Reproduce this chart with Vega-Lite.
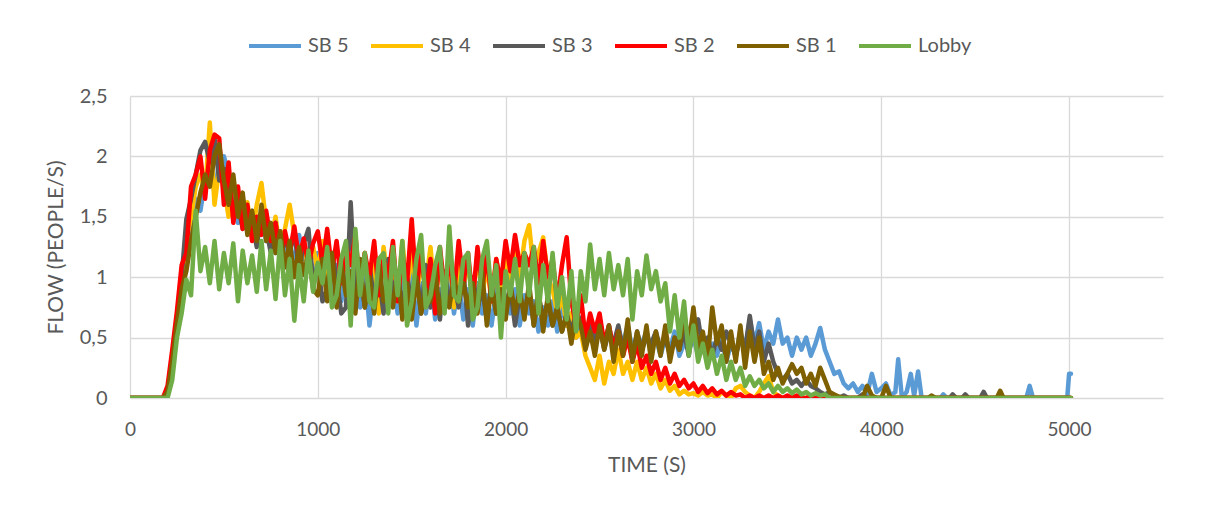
{
"$schema": "https://vega.github.io/schema/vega-lite/v6.json",
"width": 1033,
"height": 302,
"autosize": {"type": "none"},
"padding": {"left": 130, "top": 96, "right": 50, "bottom": 112},
"background": "white",
"config": {"view": {"stroke": null}, "font": "Lato"},
"data": {"values": [
{"t":0,"SB 5":0,"SB 4":0,"SB 3":0,"SB 2":0,"SB 1":0,"Lobby":0},
{"t":100,"SB 5":0,"SB 4":0,"SB 3":0,"SB 2":0,"SB 1":0,"Lobby":0},
{"t":175,"SB 5":0,"SB 4":0,"SB 3":0,"SB 2":0,"SB 1":0,"Lobby":0},
{"t":200,"SB 5":0.05,"SB 4":0.04,"SB 3":0.06,"SB 2":0.1,"SB 1":0.05,"Lobby":0},
{"t":225,"SB 5":0.3,"SB 4":0.28,"SB 3":0.32,"SB 2":0.4,"SB 1":0.3,"Lobby":0.15},
{"t":250,"SB 5":0.65,"SB 4":0.6,"SB 3":0.58,"SB 2":0.72,"SB 1":0.62,"Lobby":0.5},
{"t":275,"SB 5":1.05,"SB 4":0.95,"SB 3":1.0,"SB 2":1.1,"SB 1":0.9,"Lobby":0.7},
{"t":300,"SB 5":1.25,"SB 4":1.3,"SB 3":1.48,"SB 2":1.2,"SB 1":1.05,"Lobby":0.98},
{"t":325,"SB 5":1.45,"SB 4":1.5,"SB 3":1.65,"SB 2":1.75,"SB 1":1.3,"Lobby":0.85},
{"t":350,"SB 5":1.65,"SB 4":1.75,"SB 3":1.85,"SB 2":1.85,"SB 1":1.5,"Lobby":1.55},
{"t":375,"SB 5":1.55,"SB 4":1.85,"SB 3":2.05,"SB 2":2.0,"SB 1":1.7,"Lobby":1.05},
{"t":400,"SB 5":1.8,"SB 4":1.7,"SB 3":2.12,"SB 2":1.65,"SB 1":1.85,"Lobby":1.25},
{"t":425,"SB 5":1.9,"SB 4":2.28,"SB 3":1.95,"SB 2":2.05,"SB 1":1.75,"Lobby":0.95},
{"t":450,"SB 5":1.7,"SB 4":1.6,"SB 3":2.15,"SB 2":2.18,"SB 1":2.0,"Lobby":1.3},
{"t":475,"SB 5":1.95,"SB 4":1.9,"SB 3":1.8,"SB 2":2.15,"SB 1":2.1,"Lobby":0.9},
{"t":500,"SB 5":2.0,"SB 4":1.75,"SB 3":1.9,"SB 2":1.6,"SB 1":1.8,"Lobby":1.2},
{"t":525,"SB 5":1.85,"SB 4":1.5,"SB 3":1.75,"SB 2":1.95,"SB 1":1.6,"Lobby":0.95},
{"t":550,"SB 5":1.6,"SB 4":1.8,"SB 3":1.55,"SB 2":1.45,"SB 1":1.85,"Lobby":1.28},
{"t":575,"SB 5":1.45,"SB 4":1.6,"SB 3":1.6,"SB 2":1.75,"SB 1":1.5,"Lobby":0.8},
{"t":600,"SB 5":1.65,"SB 4":1.45,"SB 3":1.4,"SB 2":1.4,"SB 1":1.7,"Lobby":1.22},
{"t":625,"SB 5":1.45,"SB 4":1.62,"SB 3":1.55,"SB 2":1.6,"SB 1":1.35,"Lobby":0.95},
{"t":650,"SB 5":1.55,"SB 4":1.35,"SB 3":1.45,"SB 2":1.3,"SB 1":1.55,"Lobby":1.18},
{"t":675,"SB 5":1.35,"SB 4":1.6,"SB 3":1.25,"SB 2":1.5,"SB 1":1.3,"Lobby":0.88},
{"t":700,"SB 5":1.5,"SB 4":1.78,"SB 3":1.55,"SB 2":1.35,"SB 1":1.6,"Lobby":1.3},
{"t":725,"SB 5":1.3,"SB 4":1.45,"SB 3":1.4,"SB 2":1.55,"SB 1":1.3,"Lobby":0.9},
{"t":750,"SB 5":1.42,"SB 4":1.3,"SB 3":1.2,"SB 2":1.3,"SB 1":1.45,"Lobby":1.22},
{"t":775,"SB 5":1.2,"SB 4":1.5,"SB 3":1.45,"SB 2":1.45,"SB 1":1.2,"Lobby":0.82},
{"t":800,"SB 5":1.38,"SB 4":1.2,"SB 3":1.15,"SB 2":1.15,"SB 1":1.38,"Lobby":1.3},
{"t":825,"SB 5":1.15,"SB 4":1.4,"SB 3":1.32,"SB 2":1.38,"SB 1":1.08,"Lobby":0.85},
{"t":850,"SB 5":1.3,"SB 4":1.6,"SB 3":1.2,"SB 2":1.2,"SB 1":1.3,"Lobby":1.15},
{"t":875,"SB 5":1.1,"SB 4":1.35,"SB 3":1.38,"SB 2":1.42,"SB 1":1.0,"Lobby":0.64},
{"t":900,"SB 5":1.35,"SB 4":1.18,"SB 3":1.05,"SB 2":1.15,"SB 1":1.25,"Lobby":1.1},
{"t":925,"SB 5":1.15,"SB 4":1.3,"SB 3":1.28,"SB 2":1.32,"SB 1":1.02,"Lobby":0.8},
{"t":950,"SB 5":1.22,"SB 4":1.05,"SB 3":1.4,"SB 2":1.1,"SB 1":1.2,"Lobby":1.22},
{"t":975,"SB 5":1.0,"SB 4":1.25,"SB 3":0.95,"SB 2":1.28,"SB 1":0.9,"Lobby":0.88},
{"t":1000,"SB 5":1.2,"SB 4":1.05,"SB 3":1.1,"SB 2":1.38,"SB 1":0.85,"Lobby":1.12},
{"t":1025,"SB 5":0.95,"SB 4":1.3,"SB 3":0.8,"SB 2":1.1,"SB 1":1.15,"Lobby":0.95},
{"t":1050,"SB 5":1.15,"SB 4":0.95,"SB 3":0.9,"SB 2":1.4,"SB 1":0.8,"Lobby":1.25},
{"t":1075,"SB 5":0.85,"SB 4":1.2,"SB 3":1.2,"SB 2":1.05,"SB 1":1.2,"Lobby":0.75},
{"t":1100,"SB 5":1.1,"SB 4":0.9,"SB 3":1.0,"SB 2":1.3,"SB 1":0.75,"Lobby":0.85},
{"t":1125,"SB 5":0.8,"SB 4":1.15,"SB 3":0.7,"SB 2":0.95,"SB 1":1.1,"Lobby":1.15},
{"t":1150,"SB 5":1.05,"SB 4":1.05,"SB 3":0.75,"SB 2":1.25,"SB 1":0.85,"Lobby":1.3},
{"t":1175,"SB 5":0.9,"SB 4":0.8,"SB 3":1.62,"SB 2":1.1,"SB 1":1.05,"Lobby":0.6},
{"t":1200,"SB 5":1.3,"SB 4":1.1,"SB 3":0.85,"SB 2":1.35,"SB 1":0.7,"Lobby":1.4},
{"t":1225,"SB 5":0.75,"SB 4":0.9,"SB 3":1.05,"SB 2":0.9,"SB 1":1.15,"Lobby":0.85},
{"t":1250,"SB 5":1.05,"SB 4":1.2,"SB 3":0.75,"SB 2":1.2,"SB 1":0.75,"Lobby":1.2},
{"t":1275,"SB 5":0.6,"SB 4":0.85,"SB 3":1.1,"SB 2":1.0,"SB 1":1.0,"Lobby":0.8},
{"t":1300,"SB 5":0.95,"SB 4":1.1,"SB 3":0.8,"SB 2":1.3,"SB 1":0.7,"Lobby":0.75},
{"t":1325,"SB 5":0.75,"SB 4":0.7,"SB 3":1.0,"SB 2":0.85,"SB 1":1.1,"Lobby":1.15},
{"t":1350,"SB 5":1.1,"SB 4":1.25,"SB 3":0.7,"SB 2":1.15,"SB 1":0.8,"Lobby":1.2},
{"t":1375,"SB 5":0.85,"SB 4":0.95,"SB 3":1.15,"SB 2":1.0,"SB 1":0.95,"Lobby":0.7},
{"t":1400,"SB 5":1.0,"SB 4":1.15,"SB 3":0.85,"SB 2":1.3,"SB 1":0.75,"Lobby":1.25},
{"t":1425,"SB 5":0.7,"SB 4":0.8,"SB 3":1.05,"SB 2":0.8,"SB 1":1.05,"Lobby":0.85},
{"t":1450,"SB 5":1.05,"SB 4":1.3,"SB 3":0.75,"SB 2":1.2,"SB 1":0.65,"Lobby":1.3},
{"t":1475,"SB 5":0.8,"SB 4":0.9,"SB 3":1.0,"SB 2":0.95,"SB 1":0.95,"Lobby":0.6},
{"t":1500,"SB 5":1.1,"SB 4":1.2,"SB 3":0.8,"SB 2":1.48,"SB 1":0.65,"Lobby":0.8},
{"t":1525,"SB 5":0.6,"SB 4":0.85,"SB 3":1.05,"SB 2":0.9,"SB 1":1.0,"Lobby":1.15},
{"t":1550,"SB 5":0.95,"SB 4":1.1,"SB 3":0.7,"SB 2":1.2,"SB 1":0.7,"Lobby":1.35},
{"t":1575,"SB 5":0.7,"SB 4":0.95,"SB 3":1.1,"SB 2":0.85,"SB 1":0.9,"Lobby":0.75},
{"t":1600,"SB 5":1.0,"SB 4":1.25,"SB 3":0.75,"SB 2":1.15,"SB 1":0.8,"Lobby":0.85},
{"t":1625,"SB 5":0.65,"SB 4":0.8,"SB 3":1.0,"SB 2":0.7,"SB 1":1.05,"Lobby":1.1},
{"t":1650,"SB 5":0.9,"SB 4":1.15,"SB 3":0.65,"SB 2":1.25,"SB 1":0.7,"Lobby":1.25},
{"t":1675,"SB 5":0.75,"SB 4":0.85,"SB 3":1.05,"SB 2":0.9,"SB 1":0.9,"Lobby":0.7},
{"t":1700,"SB 5":1.05,"SB 4":1.2,"SB 3":0.8,"SB 2":1.15,"SB 1":0.75,"Lobby":1.42},
{"t":1725,"SB 5":0.7,"SB 4":0.75,"SB 3":0.95,"SB 2":0.85,"SB 1":1.0,"Lobby":0.85},
{"t":1750,"SB 5":0.95,"SB 4":1.1,"SB 3":0.75,"SB 2":1.3,"SB 1":0.8,"Lobby":0.8},
{"t":1775,"SB 5":0.65,"SB 4":0.9,"SB 3":1.05,"SB 2":0.95,"SB 1":0.95,"Lobby":1.15},
{"t":1800,"SB 5":0.9,"SB 4":1.15,"SB 3":0.6,"SB 2":1.2,"SB 1":0.75,"Lobby":1.2},
{"t":1825,"SB 5":0.6,"SB 4":0.8,"SB 3":1.0,"SB 2":0.8,"SB 1":0.95,"Lobby":0.65},
{"t":1850,"SB 5":0.95,"SB 4":1.2,"SB 3":0.75,"SB 2":1.25,"SB 1":0.7,"Lobby":0.75},
{"t":1875,"SB 5":0.7,"SB 4":0.85,"SB 3":0.9,"SB 2":0.9,"SB 1":1.05,"Lobby":1.15},
{"t":1900,"SB 5":0.85,"SB 4":1.1,"SB 3":0.65,"SB 2":1.2,"SB 1":0.6,"Lobby":1.3},
{"t":1925,"SB 5":0.6,"SB 4":0.8,"SB 3":0.95,"SB 2":0.8,"SB 1":0.95,"Lobby":0.85},
{"t":1950,"SB 5":0.9,"SB 4":1.15,"SB 3":0.7,"SB 2":1.15,"SB 1":0.7,"Lobby":1.1},
{"t":1975,"SB 5":0.65,"SB 4":0.85,"SB 3":0.85,"SB 2":0.95,"SB 1":0.9,"Lobby":0.5},
{"t":2000,"SB 5":0.85,"SB 4":1.2,"SB 3":0.75,"SB 2":1.3,"SB 1":0.65,"Lobby":1.05},
{"t":2025,"SB 5":0.7,"SB 4":0.95,"SB 3":0.9,"SB 2":1.05,"SB 1":0.95,"Lobby":0.85},
{"t":2050,"SB 5":0.9,"SB 4":1.25,"SB 3":0.6,"SB 2":1.35,"SB 1":0.7,"Lobby":1.15},
{"t":2075,"SB 5":0.6,"SB 4":1.0,"SB 3":0.85,"SB 2":1.1,"SB 1":0.9,"Lobby":0.8},
{"t":2100,"SB 5":0.85,"SB 4":1.3,"SB 3":0.7,"SB 2":1.2,"SB 1":0.65,"Lobby":1.2},
{"t":2125,"SB 5":0.7,"SB 4":1.43,"SB 3":0.9,"SB 2":1.1,"SB 1":0.95,"Lobby":0.85},
{"t":2150,"SB 5":0.8,"SB 4":1.05,"SB 3":0.6,"SB 2":1.25,"SB 1":0.6,"Lobby":1.25},
{"t":2175,"SB 5":0.55,"SB 4":1.2,"SB 3":0.85,"SB 2":0.95,"SB 1":0.9,"Lobby":0.7},
{"t":2200,"SB 5":0.75,"SB 4":1.33,"SB 3":0.65,"SB 2":1.3,"SB 1":0.55,"Lobby":1.1},
{"t":2225,"SB 5":0.6,"SB 4":1.0,"SB 3":0.8,"SB 2":1.0,"SB 1":0.85,"Lobby":0.8},
{"t":2250,"SB 5":0.8,"SB 4":0.9,"SB 3":0.6,"SB 2":1.15,"SB 1":0.6,"Lobby":1.2},
{"t":2275,"SB 5":0.55,"SB 4":0.7,"SB 3":0.75,"SB 2":0.8,"SB 1":0.75,"Lobby":0.75},
{"t":2300,"SB 5":0.75,"SB 4":0.85,"SB 3":0.55,"SB 2":1.1,"SB 1":0.55,"Lobby":1.0},
{"t":2325,"SB 5":0.6,"SB 4":0.6,"SB 3":0.7,"SB 2":1.33,"SB 1":0.7,"Lobby":0.65},
{"t":2350,"SB 5":0.7,"SB 4":0.7,"SB 3":0.55,"SB 2":0.8,"SB 1":0.45,"Lobby":1.05},
{"t":2375,"SB 5":0.5,"SB 4":0.5,"SB 3":0.7,"SB 2":0.6,"SB 1":0.7,"Lobby":0.55},
{"t":2400,"SB 5":0.65,"SB 4":0.55,"SB 3":0.65,"SB 2":0.85,"SB 1":0.6,"Lobby":1.05},
{"t":2425,"SB 5":0.45,"SB 4":0.35,"SB 3":0.5,"SB 2":0.5,"SB 1":0.4,"Lobby":0.8},
{"t":2450,"SB 5":0.6,"SB 4":0.25,"SB 3":0.6,"SB 2":0.7,"SB 1":0.55,"Lobby":1.27},
{"t":2475,"SB 5":0.5,"SB 4":0.15,"SB 3":0.45,"SB 2":0.55,"SB 1":0.35,"Lobby":0.9},
{"t":2500,"SB 5":0.55,"SB 4":0.35,"SB 3":0.6,"SB 2":0.7,"SB 1":0.6,"Lobby":1.15},
{"t":2525,"SB 5":0.45,"SB 4":0.12,"SB 3":0.4,"SB 2":0.45,"SB 1":0.4,"Lobby":0.85},
{"t":2550,"SB 5":0.6,"SB 4":0.3,"SB 3":0.55,"SB 2":0.6,"SB 1":0.6,"Lobby":1.2},
{"t":2575,"SB 5":0.4,"SB 4":0.2,"SB 3":0.45,"SB 2":0.4,"SB 1":0.3,"Lobby":0.9},
{"t":2600,"SB 5":0.55,"SB 4":0.4,"SB 3":0.6,"SB 2":0.55,"SB 1":0.55,"Lobby":1.1},
{"t":2625,"SB 5":0.45,"SB 4":0.2,"SB 3":0.4,"SB 2":0.35,"SB 1":0.35,"Lobby":0.85},
{"t":2650,"SB 5":0.6,"SB 4":0.3,"SB 3":0.5,"SB 2":0.5,"SB 1":0.65,"Lobby":1.15},
{"t":2675,"SB 5":0.4,"SB 4":0.15,"SB 3":0.35,"SB 2":0.3,"SB 1":0.3,"Lobby":0.65},
{"t":2700,"SB 5":0.5,"SB 4":0.3,"SB 3":0.55,"SB 2":0.45,"SB 1":0.55,"Lobby":1.05},
{"t":2725,"SB 5":0.45,"SB 4":0.15,"SB 3":0.4,"SB 2":0.25,"SB 1":0.35,"Lobby":0.85},
{"t":2750,"SB 5":0.55,"SB 4":0.25,"SB 3":0.5,"SB 2":0.35,"SB 1":0.6,"Lobby":1.18},
{"t":2775,"SB 5":0.4,"SB 4":0.12,"SB 3":0.45,"SB 2":0.2,"SB 1":0.3,"Lobby":0.9},
{"t":2800,"SB 5":0.5,"SB 4":0.2,"SB 3":0.55,"SB 2":0.3,"SB 1":0.55,"Lobby":1.05},
{"t":2825,"SB 5":0.35,"SB 4":0.08,"SB 3":0.4,"SB 2":0.15,"SB 1":0.35,"Lobby":0.8},
{"t":2850,"SB 5":0.5,"SB 4":0.15,"SB 3":0.5,"SB 2":0.25,"SB 1":0.6,"Lobby":0.95},
{"t":2875,"SB 5":0.4,"SB 4":0.06,"SB 3":0.35,"SB 2":0.12,"SB 1":0.3,"Lobby":0.55},
{"t":2900,"SB 5":0.55,"SB 4":0.1,"SB 3":0.5,"SB 2":0.2,"SB 1":0.5,"Lobby":0.85},
{"t":2925,"SB 5":0.35,"SB 4":0.03,"SB 3":0.4,"SB 2":0.1,"SB 1":0.4,"Lobby":0.5},
{"t":2950,"SB 5":0.45,"SB 4":0.06,"SB 3":0.55,"SB 2":0.15,"SB 1":0.7,"Lobby":0.8},
{"t":2975,"SB 5":0.4,"SB 4":0.03,"SB 3":0.35,"SB 2":0.08,"SB 1":0.45,"Lobby":0.35},
{"t":3000,"SB 5":0.5,"SB 4":0.04,"SB 3":0.6,"SB 2":0.12,"SB 1":0.75,"Lobby":0.6},
{"t":3025,"SB 5":0.35,"SB 4":0.02,"SB 3":0.65,"SB 2":0.05,"SB 1":0.4,"Lobby":0.3},
{"t":3050,"SB 5":0.45,"SB 4":0.05,"SB 3":0.4,"SB 2":0.1,"SB 1":0.55,"Lobby":0.45},
{"t":3075,"SB 5":0.3,"SB 4":0.02,"SB 3":0.5,"SB 2":0.04,"SB 1":0.3,"Lobby":0.25},
{"t":3100,"SB 5":0.45,"SB 4":0.03,"SB 3":0.35,"SB 2":0.08,"SB 1":0.75,"Lobby":0.4},
{"t":3125,"SB 5":0.35,"SB 4":0,"SB 3":0.5,"SB 2":0.03,"SB 1":0.45,"Lobby":0.2},
{"t":3150,"SB 5":0.5,"SB 4":0.05,"SB 3":0.4,"SB 2":0.06,"SB 1":0.6,"Lobby":0.35},
{"t":3175,"SB 5":0.3,"SB 4":0.02,"SB 3":0.55,"SB 2":0.02,"SB 1":0.3,"Lobby":0.15},
{"t":3200,"SB 5":0.45,"SB 4":0,"SB 3":0.45,"SB 2":0.05,"SB 1":0.55,"Lobby":0.3},
{"t":3225,"SB 5":0.35,"SB 4":0.08,"SB 3":0.35,"SB 2":0.02,"SB 1":0.3,"Lobby":0.15},
{"t":3250,"SB 5":0.55,"SB 4":0.1,"SB 3":0.5,"SB 2":0.03,"SB 1":0.6,"Lobby":0.25},
{"t":3275,"SB 5":0.4,"SB 4":0.05,"SB 3":0.4,"SB 2":0,"SB 1":0.25,"Lobby":0.1},
{"t":3300,"SB 5":0.65,"SB 4":0.02,"SB 3":0.68,"SB 2":0.02,"SB 1":0.55,"Lobby":0.18},
{"t":3325,"SB 5":0.45,"SB 4":0,"SB 3":0.4,"SB 2":0,"SB 1":0.3,"Lobby":0.1},
{"t":3350,"SB 5":0.62,"SB 4":0.05,"SB 3":0.55,"SB 2":0.02,"SB 1":0.5,"Lobby":0.15},
{"t":3375,"SB 5":0.4,"SB 4":0.12,"SB 3":0.3,"SB 2":0,"SB 1":0.2,"Lobby":0.08},
{"t":3400,"SB 5":0.55,"SB 4":0.18,"SB 3":0.45,"SB 2":0.02,"SB 1":0.3,"Lobby":0.12},
{"t":3425,"SB 5":0.45,"SB 4":0.05,"SB 3":0.3,"SB 2":0,"SB 1":0.15,"Lobby":0.05},
{"t":3450,"SB 5":0.65,"SB 4":0.02,"SB 3":0.2,"SB 2":0.02,"SB 1":0.25,"Lobby":0.1},
{"t":3475,"SB 5":0.45,"SB 4":0,"SB 3":0.15,"SB 2":0,"SB 1":0.12,"Lobby":0.05},
{"t":3500,"SB 5":0.5,"SB 4":0,"SB 3":0.2,"SB 2":0.02,"SB 1":0.2,"Lobby":0.08},
{"t":3525,"SB 5":0.35,"SB 4":0,"SB 3":0.12,"SB 2":0,"SB 1":0.28,"Lobby":0.04},
{"t":3550,"SB 5":0.5,"SB 4":0,"SB 3":0.15,"SB 2":0.02,"SB 1":0.2,"Lobby":0.07},
{"t":3575,"SB 5":0.4,"SB 4":0,"SB 3":0.1,"SB 2":0,"SB 1":0.25,"Lobby":0.03},
{"t":3600,"SB 5":0.5,"SB 4":0,"SB 3":0.15,"SB 2":0,"SB 1":0.12,"Lobby":0.05},
{"t":3625,"SB 5":0.35,"SB 4":0,"SB 3":0.1,"SB 2":0.02,"SB 1":0.2,"Lobby":0.02},
{"t":3650,"SB 5":0.45,"SB 4":0,"SB 3":0.08,"SB 2":0,"SB 1":0.1,"Lobby":0.04},
{"t":3675,"SB 5":0.58,"SB 4":0,"SB 3":0.05,"SB 2":0,"SB 1":0.25,"Lobby":0.02},
{"t":3700,"SB 5":0.4,"SB 4":0,"SB 3":0.03,"SB 2":0,"SB 1":0.15,"Lobby":0.03},
{"t":3725,"SB 5":0.3,"SB 4":0,"SB 3":0.05,"SB 2":0,"SB 1":0.05,"Lobby":0},
{"t":3750,"SB 5":0.2,"SB 4":0,"SB 3":0.02,"SB 2":0,"SB 1":0.03,"Lobby":0},
{"t":3775,"SB 5":0.22,"SB 4":0,"SB 3":0,"SB 2":0,"SB 1":0.01,"Lobby":0},
{"t":3800,"SB 5":0.12,"SB 4":0,"SB 3":0.02,"SB 2":0,"SB 1":0,"Lobby":0},
{"t":3825,"SB 5":0.08,"SB 4":0,"SB 3":0,"SB 2":0,"SB 1":0,"Lobby":0},
{"t":3850,"SB 5":0.12,"SB 4":0,"SB 3":0,"SB 2":0,"SB 1":0,"Lobby":0},
{"t":3875,"SB 5":0.05,"SB 4":0,"SB 3":0,"SB 2":0,"SB 1":0,"Lobby":0},
{"t":3900,"SB 5":0.1,"SB 4":0,"SB 3":0.03,"SB 2":0,"SB 1":0,"Lobby":0},
{"t":3925,"SB 5":0.03,"SB 4":0,"SB 3":0,"SB 2":0,"SB 1":0.1,"Lobby":0},
{"t":3950,"SB 5":0.2,"SB 4":0,"SB 3":0,"SB 2":0,"SB 1":0.02,"Lobby":0},
{"t":3975,"SB 5":0.05,"SB 4":0,"SB 3":0,"SB 2":0,"SB 1":0,"Lobby":0},
{"t":4000,"SB 5":0.08,"SB 4":0,"SB 3":0,"SB 2":0,"SB 1":0,"Lobby":0},
{"t":4025,"SB 5":0.12,"SB 4":0,"SB 3":0,"SB 2":0,"SB 1":0.1,"Lobby":0},
{"t":4050,"SB 5":0.02,"SB 4":0,"SB 3":0,"SB 2":0,"SB 1":0,"Lobby":0},
{"t":4075,"SB 5":0.05,"SB 4":0,"SB 3":0,"SB 2":0,"SB 1":0,"Lobby":0},
{"t":4090,"SB 5":0.32,"SB 4":0,"SB 3":0,"SB 2":0,"SB 1":0,"Lobby":0},
{"t":4110,"SB 5":0,"SB 4":0,"SB 3":0,"SB 2":0,"SB 1":0,"Lobby":0},
{"t":4135,"SB 5":0.05,"SB 4":0,"SB 3":0,"SB 2":0,"SB 1":0,"Lobby":0},
{"t":4157,"SB 5":0.2,"SB 4":0,"SB 3":0,"SB 2":0,"SB 1":0,"Lobby":0},
{"t":4175,"SB 5":0.02,"SB 4":0,"SB 3":0,"SB 2":0,"SB 1":0,"Lobby":0},
{"t":4196,"SB 5":0.22,"SB 4":0,"SB 3":0,"SB 2":0,"SB 1":0,"Lobby":0},
{"t":4215,"SB 5":0,"SB 4":0,"SB 3":0,"SB 2":0,"SB 1":0,"Lobby":0},
{"t":4250,"SB 5":0,"SB 4":0,"SB 3":0,"SB 2":0,"SB 1":0,"Lobby":0},
{"t":4267,"SB 5":0,"SB 4":0,"SB 3":0,"SB 2":0,"SB 1":0.02,"Lobby":0},
{"t":4290,"SB 5":0,"SB 4":0,"SB 3":0,"SB 2":0,"SB 1":0,"Lobby":0},
{"t":4315,"SB 5":0,"SB 4":0,"SB 3":0,"SB 2":0,"SB 1":0,"Lobby":0},
{"t":4330,"SB 5":0.03,"SB 4":0,"SB 3":0,"SB 2":0,"SB 1":0,"Lobby":0},
{"t":4350,"SB 5":0,"SB 4":0,"SB 3":0,"SB 2":0,"SB 1":0,"Lobby":0},
{"t":4365,"SB 5":0,"SB 4":0,"SB 3":0,"SB 2":0,"SB 1":0,"Lobby":0},
{"t":4380,"SB 5":0,"SB 4":0,"SB 3":0.03,"SB 2":0,"SB 1":0,"Lobby":0},
{"t":4400,"SB 5":0,"SB 4":0,"SB 3":0,"SB 2":0,"SB 1":0,"Lobby":0},
{"t":4430,"SB 5":0,"SB 4":0,"SB 3":0,"SB 2":0,"SB 1":0,"Lobby":0},
{"t":4447,"SB 5":0,"SB 4":0,"SB 3":0.03,"SB 2":0,"SB 1":0,"Lobby":0},
{"t":4465,"SB 5":0,"SB 4":0,"SB 3":0,"SB 2":0,"SB 1":0,"Lobby":0},
{"t":4527,"SB 5":0,"SB 4":0,"SB 3":0,"SB 2":0,"SB 1":0,"Lobby":0},
{"t":4545,"SB 5":0,"SB 4":0,"SB 3":0.05,"SB 2":0,"SB 1":0,"Lobby":0},
{"t":4563,"SB 5":0,"SB 4":0,"SB 3":0,"SB 2":0,"SB 1":0,"Lobby":0},
{"t":4615,"SB 5":0,"SB 4":0,"SB 3":0,"SB 2":0,"SB 1":0,"Lobby":0},
{"t":4633,"SB 5":0,"SB 4":0,"SB 3":0,"SB 2":0,"SB 1":0.06,"Lobby":0},
{"t":4651,"SB 5":0,"SB 4":0,"SB 3":0,"SB 2":0,"SB 1":0,"Lobby":0},
{"t":4772,"SB 5":0,"SB 4":0,"SB 3":0,"SB 2":0,"SB 1":0,"Lobby":0},
{"t":4790,"SB 5":0.1,"SB 4":0,"SB 3":0,"SB 2":0,"SB 1":0,"Lobby":0},
{"t":4808,"SB 5":0,"SB 4":0,"SB 3":0,"SB 2":0,"SB 1":0,"Lobby":0},
{"t":4990,"SB 5":0,"SB 4":0,"SB 3":0,"SB 2":0,"SB 1":0,"Lobby":0},
{"t":5000,"SB 5":0.2,"SB 4":0,"SB 3":0,"SB 2":0,"SB 1":0,"Lobby":0},
{"t":5010,"SB 5":0.2,"SB 4":0,"SB 3":0,"SB 2":0,"SB 1":0,"Lobby":0}
]},
"transform": [{"fold": ["SB 5", "SB 4", "SB 3", "SB 2", "SB 1", "Lobby"], "as": ["series", "flow"]}],
"mark": {"type": "line", "strokeWidth": 4.5, "strokeCap": "round", "strokeJoin": "round", "clip": true},
"encoding": {
  "x": {"field": "t", "type": "quantitative",
        "scale": {"domain": [0, 5500], "nice": false},
        "axis": {"title": "TIME (S)", "values": [0, 1000, 2000, 3000, 4000, 5000],
                 "labelExpr": "toString(datum.value)", "domain": false, "ticks": false, "labelFlush": false,
                 "grid": true, "gridColor": "#D9D9D9", "gridWidth": 1.3,
                 "labelFont": "Lato", "labelFontSize": 19, "labelColor": "#595959", "labelPadding": 22,
                 "titleFont": "Lato", "titleFontSize": 21, "titleFontWeight": "normal", "titleColor": "#595959", "titlePadding": 15}},
  "y": {"field": "flow", "type": "quantitative",
        "scale": {"domain": [0, 2.5], "nice": false},
        "axis": {"title": "FLOW (PEOPLE/S)", "values": [0, 0.5, 1, 1.5, 2, 2.5],
                 "labelExpr": "replace(toString(datum.value), '.', ',')", "domain": false, "ticks": false, "labelFlush": false,
                 "grid": true, "gridColor": "#D9D9D9", "gridWidth": 1.3,
                 "labelFont": "Lato", "labelFontSize": 20, "labelColor": "#595959", "labelPadding": 23,
                 "titleFont": "Lato", "titleFontSize": 21, "titleFontWeight": "normal", "titleColor": "#595959", "titlePadding": 13}},
  "color": {"field": "series", "type": "nominal",
            "scale": {"domain": ["SB 5", "SB 4", "SB 3", "SB 2", "SB 1", "Lobby"],
                      "range": ["#5B9BD5", "#FFC000", "#595959", "#FF0000", "#7F6000", "#70AD47"]},
            "legend": {"orient": "none", "legendX": 117, "legendY": -78, "direction": "horizontal", "title": null,
                       "symbolType": "stroke", "symbolSize": 2704, "symbolStrokeWidth": 4,
                       "labelFont": "Lato", "labelFontSize": 20, "labelColor": "#595959", "labelOffset": 5,
                       "columnPadding": 14}}
}
}
